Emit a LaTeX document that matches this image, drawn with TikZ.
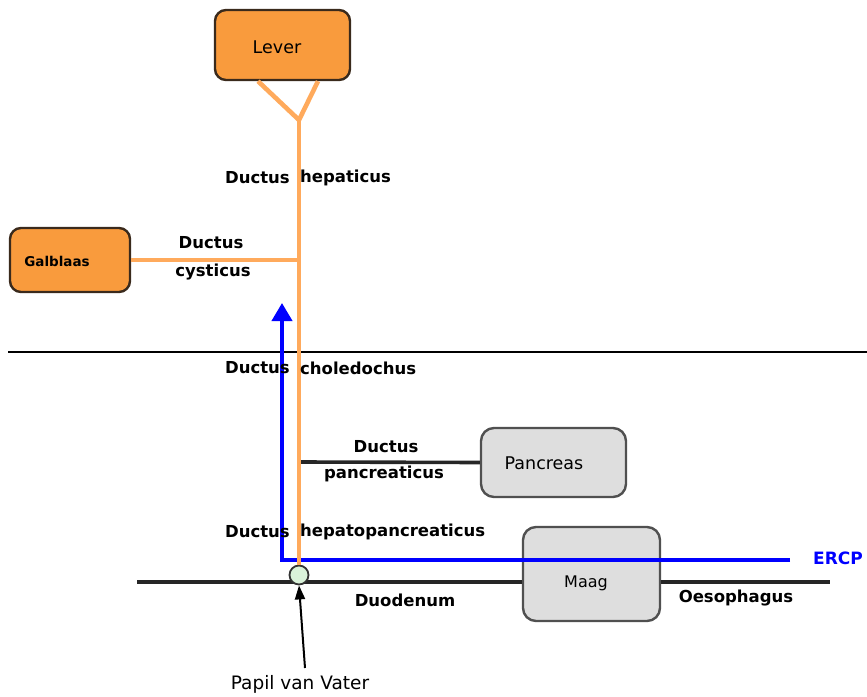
\documentclass[tikz,border=0pt]{standalone}
\usepackage{fontspec}
\setmainfont{DejaVu Sans}
\usetikzlibrary{arrows.meta}
\definecolor{organ}{HTML}{F99B3D}
\definecolor{duct}{HTML}{FFAA5C}
\definecolor{organline}{HTML}{3A2A1C}
\definecolor{greyfill}{HTML}{DEDEDE}
\definecolor{greyline}{HTML}{505050}
\definecolor{papfill}{HTML}{D9F2D9}
\begin{document}
\begin{tikzpicture}[x=1pt,y=-1pt,
  orangebox/.style={draw=organline,line width=2.4pt,fill=organ,rounded corners=11pt,inner sep=0pt},
  greybox/.style={draw=greyline,line width=2.4pt,fill=greyfill,rounded corners=13pt,inner sep=0pt},
  ductline/.style={draw=duct,line width=4.6pt},
  blackline/.style={draw=black!85,line width=3.6pt},
  lbl/.style={font=\fontsize{16.5}{19}\selectfont\bfseries,inner sep=0pt},
  plain/.style={font=\fontsize{17.5}{20}\selectfont,inner sep=0pt},
  ercpline/.style={draw=blue,line width=4pt}]
\useasboundingbox (0,0) rectangle (867,696);

% separator
\coordinate (sepL) at (8,352);
\coordinate (sepR) at (867,352);
\draw[line width=1.6pt] (sepL) -- (sepR);

% organs
\node[orangebox,minimum width=135pt,minimum height=70pt] (lever) at (282.5,45) {};
\node[plain] (levertxt) at (277,47) {Lever};
\node[orangebox,minimum width=120pt,minimum height=64pt] (galblaas) at (70,260) {};
\node[lbl,font=\fontsize{13.5}{15}\selectfont\bfseries] (galtxt) at (57,261) {Galblaas};
\node[greybox,minimum width=145pt,minimum height=69pt] (pancreas) at (553.5,462.5) {};
\node[plain] (pantxt) at (544,463) {Pancreas};
\node[greybox,minimum width=137pt,minimum height=94pt] (maag) at (591.5,574) {};
\node[plain,font=\fontsize{16}{19}\selectfont] (maagtxt) at (586,583) {Maag};

% coordinates
\coordinate (ysplit) at (299,120);
\coordinate (cyst) at (299,260);
\coordinate (panc) at (301,462);
\coordinate (duoL) at (137,582);
\coordinate (oesR) at (830,582);
\coordinate (ercpR) at (790,560);
\coordinate (ercpC) at (282,560);
\coordinate (ercpT) at (282,303);
\coordinate (papsrc) at (305,668);

% ducts
\draw[blackline] (duoL) -- (duoL -| maag.west);
\draw[blackline] (oesR -| maag.east) -- (oesR);
\draw[blackline] (panc) -- (pancreas.west);
\draw[ercpline,-{Triangle[length=18pt,width=20pt]}] (ercpR) -- (ercpC) -- (ercpT);
\draw[ductline] ([xshift=-24.5pt]lever.south) -- (ysplit) -- ([xshift=35.5pt]lever.south);
\draw[ductline] (galblaas.east) -- (cyst);
\node[circle,draw=black!80,line width=1.8pt,fill=papfill,minimum size=19pt,inner sep=0pt] (papil) at (299,575) {};
\draw[ductline] (ysplit) -- (papil.north);
\draw[line width=2pt,-{Triangle[length=14pt,width=10pt]}] (papsrc) -- (papil.south);

% labels
\node[lbl,anchor=east] (dh1) at (290,178) {Ductus};
\node[lbl,anchor=west] (dh2) at (300,178) {hepaticus};
\node[lbl] (dc1) at (211,243) {Ductus};
\node[lbl] (dc2) at (213,272) {cysticus};
\node[lbl,anchor=east] (dch1) at (290,368) {Ductus};
\node[lbl,anchor=west] (dch2) at (300,368) {choledochus};
\node[lbl] (dp1) at (386,447) {Ductus};
\node[lbl] (dp2) at (384,474) {pancreaticus};
\node[lbl,anchor=east] (dhp1) at (290,532) {Ductus};
\node[lbl,anchor=west] (dhp2) at (300,532) {hepatopancreaticus};
\node[lbl] (duo) at (405,600) {Duodenum};
\node[lbl] (oes) at (736,598) {Oesophagus};
\node[lbl,text=blue,font=\fontsize{17}{19}\selectfont\bfseries] (ercp) at (838,558) {ERCP};
\node[plain,font=\fontsize{18.5}{21}\selectfont] (pvv) at (300,684) {Papil van Vater};
\end{tikzpicture}
\end{document}
